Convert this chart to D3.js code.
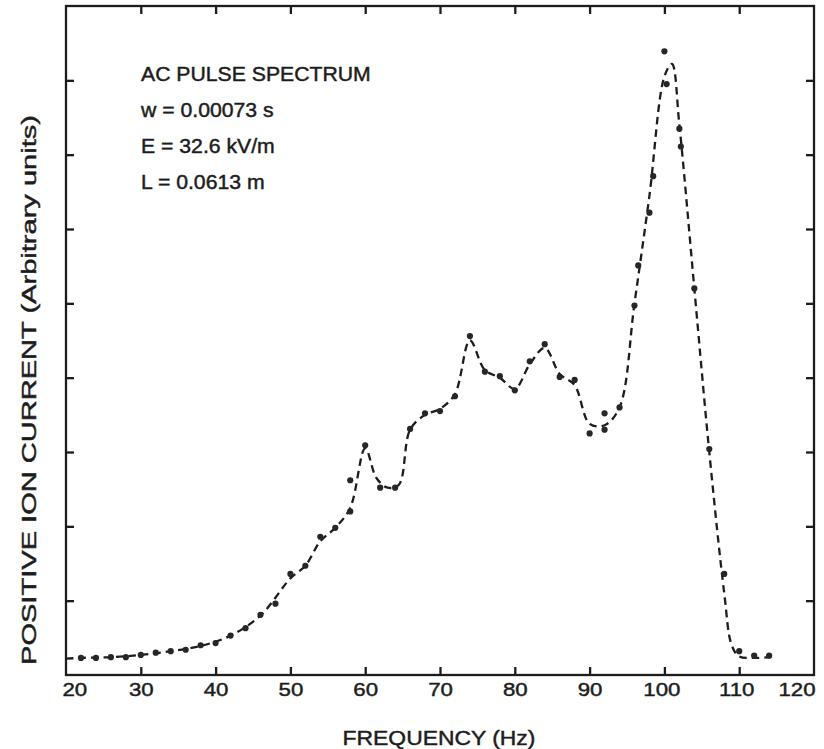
<!DOCTYPE html>
<html>
<head>
<meta charset="utf-8">
<script src="https://cdn.jsdelivr.net/npm/d3@7"></script>
<style>
  html, body { margin: 0; padding: 0; background: #fff; }
  svg text { font-family: "Liberation Sans", Arial, Helvetica, sans-serif; fill: #1c1c1c; stroke: #1c1c1c; stroke-width: 0.45px; }
</style>
</head>
<body>
<svg id="chart" width="824" height="749"></svg>
<script>
// Measured points (frequency in Hz, positive ion current in arbitrary units)
const freqs = [22, 24, 26, 28, 30, 32, 34, 36, 38, 40, 42, 44, 46, 48, 50, 52, 54, 56, 58, 58,
               60, 62, 64, 66, 68, 70, 72, 74, 76, 78, 80, 82, 84, 86, 88, 90, 92, 92, 94,
               96, 96.5, 98, 98.5, 100, 100.3, 102, 102.2, 104, 106, 108, 110, 112, 114];
const currents = [0.23, 0.23, 0.24, 0.24, 0.27, 0.30, 0.32, 0.34, 0.40, 0.43, 0.53, 0.63, 0.81, 0.96, 1.36, 1.47, 1.86, 1.98, 2.20, 2.62,
                  3.09, 2.52, 2.52, 3.31, 3.52, 3.55, 3.75, 4.56, 4.08, 4.02, 3.83, 4.22, 4.45, 4.01, 3.97, 3.25, 3.52, 3.30, 3.60,
                  4.97, 5.51, 6.22, 6.71, 8.39, 7.95, 7.35, 7.11, 5.20, 3.04, 1.36, 0.32, 0.26, 0.26];

// Smoothed spectrum drawn as the dashed line
const fitFreqs = [20, 22, 26, 30, 34, 38, 42, 46, 50, 52, 54, 56, 58, 60, 61.5, 63, 64.5, 66, 68, 70, 72, 74, 76, 78, 80, 82, 84, 86, 88,
                  90, 92, 94, 96, 98, 100, 101, 102, 104, 106, 108, 109, 110, 112, 114];
const fitValues = [0.22, 0.23, 0.24, 0.27, 0.32, 0.39, 0.53, 0.80, 1.30, 1.47, 1.80, 1.98, 2.25, 3.05, 2.65, 2.52, 2.56, 3.30, 3.50, 3.58, 3.78, 4.50, 4.10, 4.00, 3.85, 4.18, 4.40, 4.05, 3.90,
                   3.38, 3.36, 3.60, 5.00, 6.45, 8.05, 8.22, 7.40, 5.20, 3.00, 1.10, 0.40, 0.25, 0.23, 0.24];

const xTicks = [20, 30, 40, 50, 60, 70, 80, 90, 100, 110, 120];
const yTicks = [1, 2, 3, 4, 5, 6, 7, 8];

const notes = ["AC PULSE SPECTRUM", "w = 0.00073 s", "E = 32.6 kV/m", "L = 0.0613 m"];
const xTitle = "FREQUENCY (Hz)";
const yTitle = "POSITIVE ION CURRENT (Arbitrary units)";

const svg = d3.select("#chart");
const plotLeft = 66, plotRight = 814, plotTop = 6, plotBottom = 675;

const x = d3.scaleLinear().domain([20, 120]).range([plotLeft, plotRight]);
const y = d3.scaleLinear().domain([0, 9]).range([plotBottom, plotTop]);

const ink = "#1c1c1c";

// The lettering is a wide grotesque: stretch each string horizontally.
function widen(sel, factor) {
  sel.each(function () {
    const w = this.getComputedTextLength();
    d3.select(this).attr("textLength", w * factor).attr("lengthAdjust", "spacingAndGlyphs");
  });
}

// Frame
svg.append("rect")
  .attr("x", plotLeft).attr("y", plotTop)
  .attr("width", plotRight - plotLeft).attr("height", plotBottom - plotTop)
  .attr("fill", "none").attr("stroke", ink).attr("stroke-width", 2.3);

// Inward ticks on all four sides
const tickLen = 8;
const gB = svg.append("g").attr("transform", `translate(0,${plotBottom})`)
  .call(d3.axisBottom(x).tickValues(xTicks).tickSize(-tickLen).tickFormat(d3.format("d")));
const gT = svg.append("g").attr("transform", `translate(0,${plotTop})`)
  .call(d3.axisTop(x).tickValues(xTicks.slice(1, -1)).tickSize(-tickLen).tickFormat(""));
const gL = svg.append("g").attr("transform", `translate(${plotLeft},0)`)
  .call(d3.axisLeft(y).tickValues(yTicks).tickSize(-tickLen).tickFormat(""));
const gR = svg.append("g").attr("transform", `translate(${plotRight},0)`)
  .call(d3.axisRight(y).tickValues(yTicks).tickSize(-tickLen).tickFormat(""));

[gB, gT, gL, gR].forEach(g => {
  g.select(".domain").remove();
  g.selectAll(".tick line").attr("stroke", ink).attr("stroke-width", 2.3);
});
gB.selectAll(".tick").filter(d => d === 20 || d === 120).select("line").remove();

const tickText = gB.selectAll(".tick text")
  .attr("y", 21)
  .attr("dy", 0)
  .attr("fill", null)
  .style("font-size", "19px")
  .attr("text-anchor", d => d === 20 ? "start" : d === 120 ? "end" : "middle")
  .attr("dx", d => d === 20 ? -4 : d === 120 ? 1 : d >= 100 ? -3 : 0);
widen(tickText, 1.17);

// Dashed smoothed spectrum
const line = d3.line()
  .x((d, i) => x(fitFreqs[i]))
  .y(d => y(d))
  .curve(d3.curveCatmullRom.alpha(0.5));

svg.append("path")
  .datum(fitValues)
  .attr("d", line)
  .attr("fill", "none")
  .attr("stroke", ink)
  .attr("stroke-width", 2.3)
  .attr("stroke-dasharray", "7.5,5");

// Measured points
svg.append("g").selectAll("circle")
  .data(currents)
  .join("circle")
  .attr("cx", (d, i) => x(freqs[i]))
  .attr("cy", d => y(d))
  .attr("r", 3.1)
  .attr("fill", "#262626");

// Annotation block
const noteText = svg.append("g").selectAll("text")
  .data(notes)
  .join("text")
  .attr("x", 141)
  .attr("y", (d, i) => 81 + i * 36)
  .style("font-size", "20px")
  .text(d => d);
widen(noteText, 1.06);

// Axis titles
const xt = svg.append("text")
  .attr("x", 439).attr("y", 745)
  .attr("text-anchor", "middle")
  .style("font-size", "21px")
  .text(xTitle);
widen(xt, 1.09);

const yt = svg.append("text")
  .attr("transform", "translate(36,390) rotate(-90)")
  .attr("text-anchor", "middle")
  .style("font-size", "21px")
  .text(yTitle);
yt.attr("textLength", 550).attr("lengthAdjust", "spacingAndGlyphs");
</script>
</body>
</html>
